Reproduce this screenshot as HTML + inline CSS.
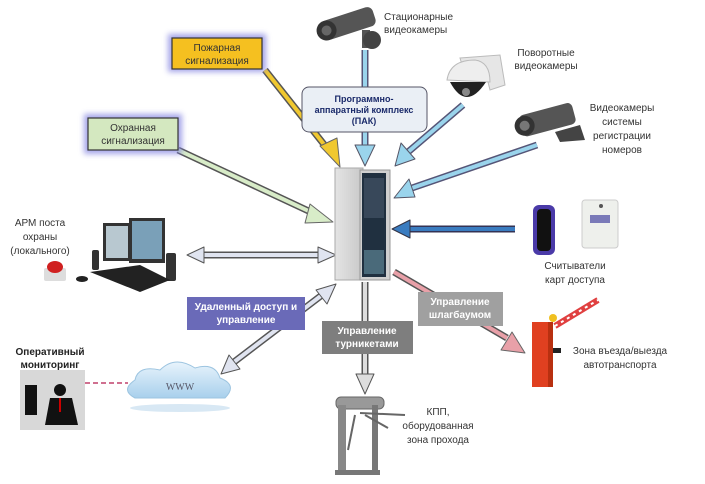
<!DOCTYPE html>
<html><head><meta charset="utf-8"><style>
html,body{margin:0;padding:0;background:#fff;}
svg{display:block;font-family:"Liberation Sans","DejaVu Sans",sans-serif;}
</style></head><body>
<svg width="705" height="484" viewBox="0 0 705 484" xmlns="http://www.w3.org/2000/svg">
<defs>
<filter id="glow" x="-20%" y="-30%" width="140%" height="160%"><feGaussianBlur stdDeviation="3"/></filter>
<linearGradient id="rack" x1="0" x2="1"><stop offset="0" stop-color="#e4e4e4"/><stop offset="1" stop-color="#c8c8c8"/></linearGradient>
<linearGradient id="cloud" x1="0" y1="0" x2="0" y2="1"><stop offset="0" stop-color="#e8f4fc"/><stop offset="1" stop-color="#a8d0ec"/></linearGradient>
</defs>
<rect width="705" height="484" fill="#fff"/>

<g stroke-linejoin="round">
<line x1="265" y1="70" x2="330" y2="152" stroke="#555" stroke-width="7"/>
<line x1="265" y1="70" x2="330" y2="152" stroke="#f0c830" stroke-width="4"/>
<polygon points="320,146 340,167 337,138" fill="#f0c830" stroke="#666" stroke-width="1"/>
<line x1="178" y1="150" x2="315" y2="214" stroke="#555" stroke-width="7"/>
<line x1="178" y1="150" x2="315" y2="214" stroke="#d8ecc8" stroke-width="4"/>
<polygon points="310,204 333,222 305,223" fill="#d8ecc8" stroke="#666" stroke-width="1"/>
<line x1="365" y1="50" x2="365" y2="148" stroke="#557" stroke-width="7"/>
<line x1="365" y1="50" x2="365" y2="148" stroke="#9ad4ec" stroke-width="4"/>
<polygon points="355,145 375,145 365,166" fill="#9ad4ec" stroke="#556" stroke-width="1"/>
<line x1="463" y1="105" x2="408" y2="152" stroke="#557" stroke-width="7"/>
<line x1="463" y1="105" x2="408" y2="152" stroke="#9ad4ec" stroke-width="4"/>
<polygon points="401,143 415,159 395,166" fill="#9ad4ec" stroke="#556" stroke-width="1"/>
<line x1="537" y1="145" x2="412" y2="188" stroke="#557" stroke-width="7"/>
<line x1="537" y1="145" x2="412" y2="188" stroke="#9ad4ec" stroke-width="4"/>
<polygon points="409,179 415,197 394,198" fill="#9ad4ec" stroke="#556" stroke-width="1"/>
<line x1="515" y1="229" x2="408" y2="229" stroke="#335" stroke-width="7"/>
<line x1="515" y1="229" x2="408" y2="229" stroke="#3a7cc0" stroke-width="4"/>
<polygon points="410,220 410,238 392,229" fill="#3a7cc0" stroke="#334" stroke-width="1"/>
<line x1="200" y1="255" x2="322" y2="255" stroke="#555" stroke-width="7"/>
<line x1="200" y1="255" x2="322" y2="255" stroke="#e0e4f0" stroke-width="4"/>
<polygon points="204,247 204,263 187,255" fill="#e0e4f0" stroke="#555" stroke-width="1"/>
<polygon points="318,247 318,263 336,255" fill="#e0e4f0" stroke="#555" stroke-width="1"/>
<line x1="322" y1="295" x2="234" y2="362" stroke="#555" stroke-width="7"/>
<line x1="322" y1="295" x2="234" y2="362" stroke="#e0e4f0" stroke-width="4"/>
<polygon points="316,290 327,304 336,284" fill="#e0e4f0" stroke="#555" stroke-width="1"/>
<polygon points="229,355 240,369 221,374" fill="#e0e4f0" stroke="#555" stroke-width="1"/>
<line x1="365" y1="282" x2="365" y2="376" stroke="#555" stroke-width="7"/>
<line x1="365" y1="282" x2="365" y2="376" stroke="#ddd" stroke-width="4"/>
<polygon points="356,374 374,374 365,394" fill="#ddd" stroke="#555" stroke-width="1"/>
<line x1="394" y1="272" x2="507" y2="338" stroke="#555" stroke-width="7"/>
<line x1="394" y1="272" x2="507" y2="338" stroke="#e8a0a8" stroke-width="4"/>
<polygon points="501,350 512,332 525,353" fill="#e8a0a8" stroke="#666" stroke-width="1"/>
<line x1="85" y1="383" x2="128" y2="383" stroke="#d07090" stroke-width="2" stroke-dasharray="5,3"/>
</g>

<rect x="168" y="34" width="98" height="38" fill="#8080e0" filter="url(#glow)" opacity="0.7"/>
<rect x="172" y="38" width="90" height="31" fill="#f5c020" stroke="#333" stroke-width="1.2"/>
<text x="217" y="51" font-size="10" text-anchor="middle" fill="#333">Пожарная</text>
<text x="217" y="64" font-size="10" text-anchor="middle" fill="#333">сигнализация</text>

<rect x="84" y="114" width="98" height="40" fill="#8080e0" filter="url(#glow)" opacity="0.7"/>
<rect x="88" y="118" width="90" height="32" fill="#d4e8c0" stroke="#333" stroke-width="1.2"/>
<text x="133" y="131" font-size="10" text-anchor="middle" fill="#333">Охранная</text>
<text x="133" y="144" font-size="10" text-anchor="middle" fill="#333">сигнализация</text>

<rect x="302" y="87" width="125" height="45" rx="7" fill="#eaeff5" stroke="#556" stroke-width="1"/>
<text x="364" y="102" font-size="9" font-weight="bold" text-anchor="middle" fill="#1a2a6a">Программно-</text>
<text x="364" y="113" font-size="9" font-weight="bold" text-anchor="middle" fill="#1a2a6a">аппаратный комплекс</text>
<text x="364" y="124" font-size="9" font-weight="bold" text-anchor="middle" fill="#1a2a6a">(ПАК)</text>

<rect x="187" y="297" width="118" height="33" fill="#6a6ab8"/>
<text x="246" y="310" font-size="10" font-weight="bold" text-anchor="middle" fill="#fff">Удаленный доступ и</text>
<text x="246" y="323" font-size="10" font-weight="bold" text-anchor="middle" fill="#fff">управление</text>

<rect x="322" y="321" width="91" height="33" fill="#7e7e7e"/>
<text x="367" y="334" font-size="10" font-weight="bold" text-anchor="middle" fill="#fff">Управление</text>
<text x="367" y="347" font-size="10" font-weight="bold" text-anchor="middle" fill="#fff">турникетами</text>

<rect x="418" y="292" width="85" height="34" fill="#a0a0a0"/>
<text x="460" y="305" font-size="10" font-weight="bold" text-anchor="middle" fill="#fff">Управление</text>
<text x="460" y="318" font-size="10" font-weight="bold" text-anchor="middle" fill="#fff">шлагбаумом</text>

<rect x="335" y="168" width="28" height="112" fill="url(#rack)" stroke="#aaa"/>
<rect x="360" y="170" width="30" height="110" fill="#d0d0d0" stroke="#999"/>
<rect x="362" y="173" width="24" height="104" fill="#203040"/>
<rect x="364" y="178" width="20" height="40" fill="#38485a"/>
<rect x="364" y="250" width="20" height="24" fill="#4a6a7a"/>

<g transform="rotate(-18 350 25)">
<rect x="322" y="13" width="54" height="20" rx="6" fill="#555"/>
<circle cx="326" cy="23" r="10" fill="#333"/><circle cx="326" cy="23" r="5" fill="#666"/>
</g>
<rect x="362" y="30" width="8" height="18" fill="#555"/>
<circle cx="372" cy="40" r="9" fill="#444"/>
<text x="384" y="20" font-size="10" fill="#333">Стационарные</text>
<text x="384" y="33" font-size="10" fill="#333">видеокамеры</text>

<path d="M460,58 L500,55 L505,85 L490,90 L485,70 L465,75 Z" fill="#e6e6e6" stroke="#bbb"/>
<path d="M447,80 Q450,60 475,60 Q490,62 490,82 Z" fill="#eee" stroke="#bbb"/>
<path d="M450,82 Q466,112 486,82 Z" fill="#222"/>
<circle cx="466" cy="92" r="4" fill="#888"/>
<text x="546" y="56" font-size="10" text-anchor="middle" fill="#333">Поворотные</text>
<text x="546" y="69" font-size="10" text-anchor="middle" fill="#333">видеокамеры</text>

<g transform="rotate(-15 550 120)">
<rect x="520" y="108" width="55" height="22" rx="5" fill="#555"/>
<circle cx="524" cy="119" r="10" fill="#333"/><circle cx="524" cy="119" r="5" fill="#777"/>
</g>
<path d="M555,132 L580,125 L585,140 L560,142 Z" fill="#444"/>
<text x="622" y="111" font-size="10" text-anchor="middle" fill="#333">Видеокамеры</text>
<text x="622" y="125" font-size="10" text-anchor="middle" fill="#333">системы</text>
<text x="622" y="139" font-size="10" text-anchor="middle" fill="#333">регистрации</text>
<text x="622" y="153" font-size="10" text-anchor="middle" fill="#333">номеров</text>

<rect x="533" y="205" width="22" height="50" rx="6" fill="#4a3aa8"/>
<rect x="537" y="209" width="14" height="42" rx="4" fill="#111"/>
<rect x="582" y="200" width="36" height="48" rx="3" fill="#eef0ec" stroke="#ccc"/>
<rect x="590" y="215" width="20" height="8" fill="#7a7ab8"/>
<circle cx="601" cy="206" r="2" fill="#555"/>
<text x="575" y="269" font-size="10" text-anchor="middle" fill="#333">Считыватели</text>
<text x="575" y="283" font-size="10" text-anchor="middle" fill="#333">карт доступа</text>

<text x="40" y="226" font-size="10" text-anchor="middle" fill="#333">АРМ поста</text>
<text x="40" y="240" font-size="10" text-anchor="middle" fill="#333">охраны</text>
<text x="40" y="254" font-size="10" text-anchor="middle" fill="#333">(локального)</text>
<rect x="103" y="223" width="27" height="38" fill="#333"/>
<rect x="106" y="226" width="22" height="32" fill="#b8c8d0"/>
<rect x="129" y="218" width="36" height="45" fill="#333"/>
<rect x="132" y="221" width="30" height="38" fill="#7aa0b8"/>
<rect x="92" y="250" width="7" height="20" rx="2" fill="#333"/>
<rect x="166" y="253" width="10" height="28" rx="2" fill="#333"/>
<path d="M90,272 L140,265 L170,280 L140,292 Z" fill="#222"/>
<ellipse cx="82" cy="279" rx="6" ry="3" fill="#222"/>
<rect x="44" y="268" width="22" height="13" rx="2" fill="#ddd"/>
<ellipse cx="55" cy="267" rx="8" ry="6" fill="#d02020"/>

<text x="50" y="355" font-size="10" font-weight="bold" text-anchor="middle" fill="#222">Оперативный</text>
<text x="50" y="368" font-size="10" font-weight="bold" text-anchor="middle" fill="#222">мониторинг</text>
<rect x="20" y="370" width="65" height="60" fill="#d8d8d8"/>
<rect x="25" y="385" width="12" height="30" fill="#111"/>
<circle cx="60" cy="390" r="6" fill="#111"/>
<path d="M45,425 L50,398 L72,398 L78,425 Z" fill="#111"/>
<rect x="59" y="398" width="2" height="14" fill="#c00"/>

<ellipse cx="180" cy="408" rx="50" ry="4" fill="#d8e8f4"/>
<path d="M135,398 Q120,390 135,380 Q138,365 160,370 Q175,355 195,368 Q215,362 220,378 Q238,385 225,398 Z" fill="url(#cloud)" stroke="#9cc4e0"/>
<text x="180" y="390" font-size="10" font-family="Liberation Serif,serif" text-anchor="middle" fill="#556">WWW</text>

<rect x="336" y="397" width="48" height="12" rx="5" fill="#999" stroke="#666"/>
<rect x="338" y="405" width="8" height="68" fill="#888"/>
<rect x="372" y="405" width="6" height="65" fill="#777"/>
<rect x="335" y="470" width="45" height="5" fill="#777"/>
<line x1="360" y1="413" x2="405" y2="415" stroke="#666" stroke-width="2"/>
<line x1="355" y1="415" x2="348" y2="450" stroke="#666" stroke-width="2"/>
<line x1="365" y1="415" x2="388" y2="428" stroke="#666" stroke-width="2"/>
<text x="438" y="415" font-size="10" text-anchor="middle" fill="#333">КПП,</text>
<text x="438" y="429" font-size="10" text-anchor="middle" fill="#333">оборудованная</text>
<text x="438" y="443" font-size="10" text-anchor="middle" fill="#333">зона прохода</text>

<line x1="555" y1="326" x2="598" y2="300" stroke="#e04040" stroke-width="6"/>
<line x1="555" y1="326" x2="598" y2="300" stroke="#fff" stroke-width="2" stroke-dasharray="3,4"/>
<circle cx="553" cy="318" r="4" fill="#f0c020"/>
<rect x="532" y="322" width="21" height="65" fill="#e04020"/>
<rect x="548" y="322" width="5" height="65" fill="#b83010"/>
<rect x="553" y="348" width="8" height="5" fill="#222"/>
<text x="620" y="354" font-size="10" text-anchor="middle" fill="#333">Зона въезда/выезда</text>
<text x="620" y="368" font-size="10" text-anchor="middle" fill="#333">автотранспорта</text>
</svg>
</body></html>
